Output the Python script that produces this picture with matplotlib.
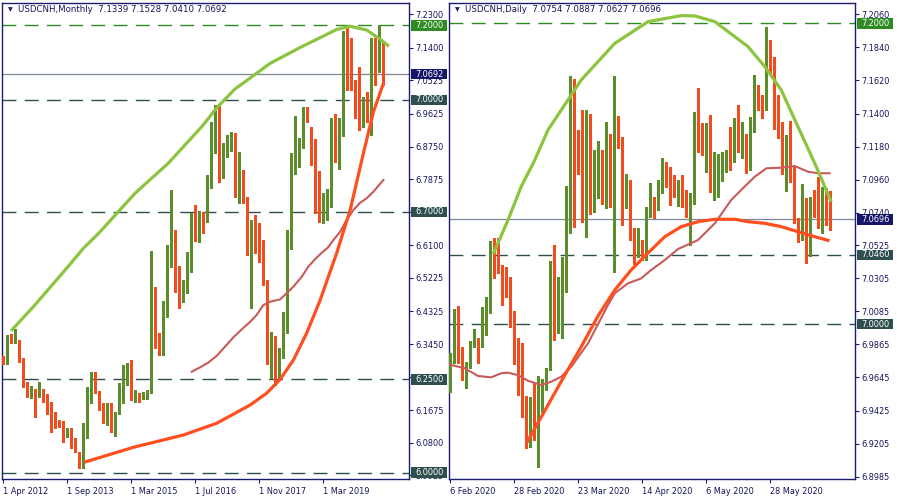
import matplotlib
matplotlib.use('Agg')
import matplotlib.pyplot as plt
import matplotlib.transforms as mtransforms
from matplotlib.patches import Rectangle

plt.rcParams['font.family'] = ['DejaVu Sans']

# ---------------- Monthly data (bar index 0..95) ----------------
m_open = [6.3076, 6.2942, 6.3640, 6.3510, 6.3480, 6.3050, 6.2405, 6.2056, 6.2217, 6.2056,
          6.2190, 6.2029, 6.1600, 6.1439, 6.1332, 6.1305, 6.1117, 6.1144, 6.0902, 6.0526,
          6.0312, 6.1197, 6.2137, 6.2512, 6.2029, 6.1788, 6.1466, 6.1788, 6.1224, 6.1600,
          6.1976, 6.2781, 6.2834, 6.2029, 6.2100, 6.2029, 6.2002, 6.2164, 6.4418, 6.3613,
          6.3183, 6.4203, 6.5652, 6.5948, 6.5518, 6.4606, 6.4874, 6.5867, 6.6699, 6.6216,
          6.6914, 6.6753, 6.7773, 6.9141, 6.9705, 6.8229, 6.8524, 6.8658, 6.8954, 6.7504,
          6.7800, 6.7263, 6.5921, 6.6458, 6.6323, 6.6162, 6.5089, 6.2969, 6.3318, 6.2566,
          6.3130, 6.4042, 6.6323, 6.8041, 6.8470, 6.8846, 6.9785, 6.9141, 6.8658, 6.7075,
          6.6968, 6.7102, 6.7370, 6.9410, 6.8309, 6.9061, 7.1745, 7.1423, 7.0483, 7.0295,
          6.9624, 6.9973, 6.9732, 7.0913, 7.0805, 7.1339]
m_high = [6.3130, 6.3680, 6.3720, 6.3854, 6.3560, 6.3080, 6.2430, 6.2325, 6.2244, 6.2432,
          6.2244, 6.2110, 6.1895, 6.1627, 6.1412, 6.1385, 6.1197, 6.1197, 6.0929, 6.0550,
          6.1332, 6.2298, 6.2700, 6.2700, 6.2190, 6.1868, 6.1868, 6.1868, 6.1627, 6.2405,
          6.2888, 6.2942, 6.3022, 6.2217, 6.2137, 6.2164, 6.2217, 6.5956, 6.4981, 6.3747,
          6.4606, 6.6109, 6.7585, 6.6511, 6.5540, 6.5169, 6.5921, 6.6968, 6.7182, 6.7021,
          6.6994, 6.7987, 6.9410, 6.9866, 6.9866, 6.8846, 6.9061, 6.9141, 6.9115, 6.8605,
          6.8122, 6.7397, 6.6780, 6.6914, 6.6699, 6.6243, 6.5169, 6.3774, 6.3666, 6.3344,
          6.4311, 6.6511, 6.8578, 6.9571, 6.8980, 6.9812, 6.9812, 6.9276, 6.8954, 6.8095,
          6.7504, 6.7612, 6.9517, 6.9624, 6.9517, 7.1852, 7.1933, 7.1664, 7.0537, 7.0886,
          7.0081, 7.0215, 7.1664, 7.1664, 7.2013, 7.1528]
m_low = [6.2920, 6.2920, 6.3480, 6.3480, 6.2970, 6.2300, 6.2030, 6.2002, 6.1493, 6.2040,
         6.1895, 6.1580, 6.1090, 6.1197, 6.1224, 6.0822, 6.0956, 6.0661, 6.0553, 6.0124,
         6.0124, 6.0929, 6.1868, 6.2137, 6.1680, 6.1332, 6.1278, 6.1090, 6.0983, 6.1580,
         6.1868, 6.2351, 6.1949, 6.1895, 6.1895, 6.1976, 6.1976, 6.2140, 6.3344, 6.3157,
         6.3160, 6.4176, 6.5518, 6.4847, 6.4418, 6.4579, 6.4820, 6.5384, 6.6216, 6.6189,
         6.6431, 6.6726, 6.7638, 6.8578, 6.7800, 6.7907, 6.8470, 6.8631, 6.7397, 6.7236,
         6.7236, 6.5840, 6.4418, 6.5894, 6.5652, 6.5035, 6.2920, 6.2539, 6.2351, 6.2486,
         6.3076, 6.3747, 6.6001, 6.8020, 6.8202, 6.8712, 6.9410, 6.8256, 6.6968, 6.6726,
         6.6699, 6.6780, 6.7129, 6.8336, 6.8148, 6.9040, 7.0269, 7.0269, 6.9517, 6.9195,
         6.9276, 6.9410, 6.9061, 7.0403, 7.0752, 7.0410]
m_close = [6.2942, 6.3666, 6.3510, 6.3720, 6.3050, 6.2405, 6.2056, 6.2217, 6.2056, 6.2190,
           6.2002, 6.1600, 6.1439, 6.1332, 6.1278, 6.1117, 6.1144, 6.0848, 6.0795, 6.0312,
           6.1197, 6.2137, 6.2512, 6.2432, 6.1788, 6.1466, 6.1788, 6.1224, 6.1600, 6.2164,
           6.2834, 6.2861, 6.2029, 6.2083, 6.2056, 6.2110, 6.2190, 6.4445, 6.3613, 6.3183,
           6.4257, 6.5652, 6.5948, 6.5518, 6.4633, 6.4874, 6.5867, 6.6699, 6.6404, 6.6914,
           6.6753, 6.7773, 6.9195, 6.9598, 6.8283, 6.8524, 6.8685, 6.9007, 6.7477, 6.7800,
           6.7263, 6.5921, 6.6431, 6.6297, 6.6082, 6.5089, 6.2942, 6.3291, 6.2566, 6.3157,
           6.4069, 6.6323, 6.8041, 6.8417, 6.8712, 6.9759, 6.9437, 6.8658, 6.7021, 6.6994,
           6.7236, 6.7370, 6.9356, 6.8631, 6.9088, 7.1610, 7.1369, 7.0456, 7.0269, 6.9544,
           6.9973, 6.9732, 7.0940, 7.0805, 7.1342, 7.0692]
m_tick_idx = [0, 16, 32, 48, 64, 80]
m_tick_lbl = ['1 Apr 2012', '1 Sep 2013', '1 Mar 2015', '1 Jul 2016', '1 Nov 2017', '1 Mar 2019']
m_yticks = [7.2300, 7.1400, 7.0525, 6.9625, 6.8750, 6.7875, 6.7000, 6.6100, 6.5225,
            6.4325, 6.3450, 6.2575, 6.1675, 6.0800, 5.9925]
m_hidden_ticks = [6.7000, 6.2575]
# moving average
m_ma_idx = [47.2, 49.3, 51.3, 53.4, 55.5, 57.6, 59.7, 61.8, 63.4, 65.1, 66.8, 69.3, 70.9,
            72.6, 74.7, 76.3, 78.0, 79.7, 81.3, 82.6, 84.3, 85.9, 87.6, 89.3, 90.9, 92.6, 95.1]
m_ma_val = [6.2709, 6.2826, 6.2950, 6.3130, 6.3380, 6.3631, 6.3845, 6.4049, 6.4230, 6.4499,
            6.4587, 6.4650, 6.4812, 6.4990, 6.5258, 6.5526, 6.5725, 6.5902, 6.6047, 6.6243,
            6.6466, 6.6780, 6.7048, 6.7244, 6.7362, 6.7539, 6.7853]
# drawn trend curves
m_arc_idx = [2.0, 7.6, 15.9, 20.1, 24.3, 33.0, 41.3, 49.7, 53.4, 58.0, 63.4, 66.8, 74.3,
             83.4, 86.8, 90.9, 94.3, 96.5]
m_arc_val = [6.3801, 6.4453, 6.5483, 6.6020, 6.6466, 6.7496, 6.8301, 6.9284, 6.9785, 7.0295,
             7.0717, 7.0985, 7.1409, 7.1892, 7.1978, 7.1879, 7.1629, 7.1441]
m_red_idx = [20.3, 32.6, 45.1, 53.4, 61.8, 65.9, 69.3, 72.6, 75.9, 79.3, 83.4, 86.8, 90.1, 92.6, 95.1]
m_red_val = [6.0277, 6.0679, 6.1009, 6.1323, 6.1815, 6.2129, 6.2504, 6.3022, 6.3739, 6.4633,
             6.5886, 6.7048, 6.8570, 6.9678, 7.0448]
m_levels = [7.2000, 7.0000, 6.7000, 6.2500, 6.0000]
m_last = 7.0692

# ---------------- Daily data (bar index 0..95) ----------------
d_open = [6.9575, 6.9750, 7.0016, 6.9834, 6.9690, 6.9717, 6.9861, 6.9901, 6.9850, 7.0049,
          7.0087, 7.0446, 7.0506, 7.0355, 7.0260, 7.0207, 7.0080, 6.9881, 6.9543, 6.9484,
          6.9211, 6.9389, 6.9262, 6.9490, 6.9575, 6.9741, 7.0273, 7.0056, 7.0067, 7.0247,
          7.0674, 7.1545, 7.1251, 7.1279, 7.0805, 7.1244, 7.0805, 7.0847, 7.1138, 7.0892,
          7.1197, 7.0854, 7.1257, 7.1239, 7.0781, 7.0825, 7.0614, 7.0471, 7.0541, 7.0437,
          7.0714, 7.0803, 7.0781, 7.0914, 7.1018, 7.0991, 7.0936, 7.0892, 7.0918, 7.0836,
          7.0725, 7.0813, 7.1324, 7.1302, 7.1240, 7.1290, 7.0903, 7.0925, 7.1062, 7.1073,
          7.1118, 7.1113, 7.1312, 7.1171, 7.1184, 7.1031, 7.1328, 7.1541, 7.1490, 7.1457,
          7.1816, 7.1727, 7.1346, 7.1279, 7.1080, 7.1195, 7.1047, 7.0674, 7.0583, 7.0728,
          7.0537, 7.0759, 7.0819, 7.0668, 7.0819, 7.0754]
d_high = [6.9807, 7.0100, 7.0120, 6.9850, 6.9750, 6.9889, 6.9967, 6.9909, 7.0113, 7.0180,
          7.0554, 7.0572, 7.0572, 7.0393, 7.0380, 7.0315, 7.0087, 6.9907, 6.9874, 6.9522,
          6.9517, 6.9608, 6.9655, 6.9635, 6.9708, 7.0419, 7.0526, 7.0315, 7.0448, 7.0918,
          7.1650, 7.1630, 7.1290, 7.1424, 7.1424, 7.1397, 7.1158, 7.1217, 7.1158, 7.1346,
          7.1264, 7.1650, 7.1384, 7.1245, 7.0998, 7.0958, 7.0639, 7.0639, 7.0559, 7.0780,
          7.0940, 7.0847, 7.0958, 7.1102, 7.1080, 7.1042, 7.0991, 7.0958, 7.0991, 7.0892,
          7.0869, 7.1412, 7.1568, 7.1335, 7.1335, 7.1387, 7.1146, 7.1129, 7.1146, 7.1158,
          7.1312, 7.1368, 7.1457, 7.1346, 7.1264, 7.1379, 7.1656, 7.1590, 7.1523, 7.1977,
          7.1889, 7.1778, 7.1523, 7.1346, 7.1257, 7.1350, 7.1050, 7.0703, 7.0932, 7.0840,
          7.0847, 7.0892, 7.0980, 7.0914, 7.0907, 7.0887]
d_low = [6.9550, 6.9741, 6.9741, 6.9628, 6.9575, 6.9708, 6.9850, 6.9741, 6.9845, 6.9927,
         7.0073, 7.0306, 7.0340, 7.0127, 7.0182, 6.9982, 6.9736, 6.9528, 6.9384, 6.9176,
         6.9185, 6.9229, 6.9051, 6.9417, 6.9562, 6.9695, 6.9894, 6.9943, 6.9907, 7.0215,
         7.0606, 7.0648, 7.1000, 7.0681, 7.0581, 7.0732, 7.0747, 7.0838, 7.0798, 7.0774,
         7.0778, 7.0348, 7.1169, 7.0659, 7.0770, 7.0559, 7.0399, 7.0448, 7.0426, 7.0426,
         7.0710, 7.0704, 7.0759, 7.0870, 7.0914, 7.0792, 7.0848, 7.0787, 7.0780, 7.0710,
         7.0529, 7.0798, 7.1146, 7.1124, 7.1008, 7.0880, 7.0825, 7.0847, 7.0953, 7.1013,
         7.1025, 7.1080, 7.1146, 7.1102, 7.1003, 7.1025, 7.1275, 7.1424, 7.1368, 7.1424,
         7.1661, 7.1297, 7.1239, 7.0996, 7.0887, 7.0947, 7.0672, 7.0548, 7.0559, 7.0405,
         7.0455, 7.0714, 7.0637, 7.0605, 7.0659, 7.0627]
d_close = [6.9774, 6.9976, 6.9828, 6.9695, 6.9734, 6.9881, 6.9901, 6.9834, 7.0054, 7.0120,
           7.0439, 7.0308, 7.0348, 7.0209, 7.0200, 7.0054, 6.9743, 6.9595, 6.9450, 6.9211,
           6.9402, 6.9262, 6.9490, 6.9575, 6.9668, 7.0293, 7.0200, 7.0076, 7.0286, 7.0732,
           7.1552, 7.0892, 7.1080, 7.0780, 7.1257, 7.0754, 7.0852, 7.1098, 7.0914, 7.1204,
           7.0887, 7.1264, 7.1239, 7.0836, 7.0818, 7.0614, 7.0471, 7.0559, 7.0437, 7.0719,
           7.0887, 7.0748, 7.0914, 7.0991, 7.0985, 7.0925, 7.0870, 7.0918, 7.0836, 7.0721,
           7.0803, 7.1357, 7.1290, 7.1206, 7.1280, 7.0892, 7.0947, 7.1020, 7.1073, 7.1113,
           7.1098, 7.1328, 7.1173, 7.1177, 7.1018, 7.1302, 7.1457, 7.1475, 7.1430, 7.1763,
           7.1712, 7.1319, 7.1257, 7.1013, 7.1151, 7.1069, 7.0674, 7.0559, 7.0750, 7.0537,
           7.0792, 7.0737, 7.0664, 7.0803, 7.0709, 7.0696]
d_tick_idx = [0, 16, 32, 48, 64, 80]
d_tick_lbl = ['6 Feb 2020', '28 Feb 2020', '23 Mar 2020', '14 Apr 2020', '6 May 2020', '28 May 2020']
d_yticks = [7.2060, 7.1840, 7.1620, 7.1400, 7.1180, 7.0960, 7.0740, 7.0525, 7.0305,
            7.0085, 6.9865, 6.9645, 6.9425, 6.9205, 6.8985]
d_hidden_ticks = []
d_ma_idx = [-0.5, 3.7, 7.0, 10.3, 12.8, 14.5, 17.0, 19.5, 22.8, 25.3, 27.8, 30.3, 34.5, 39.5,
            41.2, 44.5, 47.8, 50.3, 53.7, 57.0, 62.0, 66.2, 70.3, 72.8, 76.2, 79.1, 82.8,
            86.2, 89.5, 92.0, 94.9]
d_ma_val = [6.9734, 6.9706, 6.9655, 6.9646, 6.9673, 6.9677, 6.9661, 6.9623, 6.9595, 6.9617,
            6.9650, 6.9716, 6.9872, 7.0127, 7.0205, 7.0271, 7.0304, 7.0360, 7.0426, 7.0499,
            7.0559, 7.0670, 7.0825, 7.0892, 7.0980, 7.1036, 7.1040, 7.1051, 7.1013, 7.1003,
            7.1003]
d_arc_idx = [10.8, 14.5, 17.8, 21.2, 24.5, 32.8, 41.2, 49.5, 57.8, 61.2, 66.2, 74.5, 78.7,
             82.8, 87.0, 91.2, 95.3]
d_arc_val = [7.0466, 7.0692, 7.0914, 7.1091, 7.1291, 7.1623, 7.1867, 7.2011, 7.2051, 7.2049,
             7.2011, 7.1845, 7.1712, 7.1557, 7.1312, 7.1069, 7.0814]
d_red_idx = [19.1, 24.5, 28.7, 32.8, 37.0, 41.2, 45.3, 49.5, 53.7, 57.8, 62.0, 66.2, 71.2,
             74.5, 78.7, 82.8, 87.0, 91.2, 94.9]
d_red_val = [6.9207, 6.9462, 6.9661, 6.9849, 7.0054, 7.0227, 7.0360, 7.0473, 7.0581, 7.0648,
             7.0681, 7.0697, 7.0697, 7.0681, 7.0670, 7.0648, 7.0614, 7.0581, 7.0554]
d_levels = [7.2000, 7.0460, 7.0000]
d_last = 7.0696

# ---------------- styling ----------------
W, H = 897, 497
BULL = '#5B8E2B'
BEAR = '#F24B1E'
ARC = '#8DC43F'
TREND = '#FF4F1F'
MA = '#C85A5A'
NAVY = '#1B1B72'
SLATE = '#2F4F4F'
GREEN_LVL = '#2E8B22'
LASTC = '#7A8899'
FS = 5.9

fig = plt.figure(figsize=(W / 100, H / 100), dpi=100)
fig.patch.set_facecolor('white')


def make_axes(left_px, width_px):
    return fig.add_axes([left_px / W, 18 / H, width_px / W, 476 / H])


def draw_panel(ax, o, h, l, c, ppu, xlim, ylim, yticks, hidden, tick_idx, tick_lbl,
               ma_i, ma_v, arc_i, arc_v, red_i, red_v, levels, last, width_px, title):
    ax.set_facecolor('white')
    ax.set_xlim(*xlim)
    ax.set_ylim(*ylim)
    minh = 1.0 / ppu
    for i in range(len(o)):
        up = c[i] >= o[i]
        col = BULL if up else BEAR
        ax.vlines(i, l[i], h[i], color=col, lw=0.8, zorder=3, antialiased=False)
        bot = min(o[i], c[i])
        hh = max(abs(c[i] - o[i]), minh)
        ax.add_patch(Rectangle((i - 0.36, bot), 0.72, hh, facecolor=col,
                               edgecolor='none', zorder=3.1, antialiased=False))
    # horizontal levels
    for lv in levels:
        col = GREEN_LVL if abs(lv - 7.2) < 1e-9 else SLATE
        ax.axhline(lv, color=col, lw=1.0, dashes=(10, 6), zorder=1)
    ax.axhline(last, color=LASTC, lw=0.9, zorder=1.5)
    # indicator + drawn objects
    ax.plot(ma_i, ma_v, color=MA, lw=1.5, zorder=4)
    ax.plot(arc_i, arc_v, color=ARC, lw=2.3, zorder=5, solid_capstyle='butt',
            solid_joinstyle='round')
    ax.plot(red_i, red_v, color=TREND, lw=2.3, zorder=5, solid_capstyle='butt',
            solid_joinstyle='round')

    # axes styling
    for s in ax.spines.values():
        s.set_color(NAVY)
        s.set_linewidth(1.0)
    ax.yaxis.tick_right()
    ax.set_yticks(yticks)
    ax.set_yticklabels(['' if any(abs(v - hv) < 1e-9 for hv in hidden) else '%.4f' % v
                        for v in yticks])
    ax.tick_params(axis='y', colors=NAVY, labelcolor='#14145A', length=3, width=0.8,
                   pad=1.5, labelsize=FS)
    ax.set_xticks(tick_idx)
    ax.set_xticklabels(tick_lbl)
    for t in ax.get_xticklabels():
        t.set_ha('left')
    ax.tick_params(axis='x', colors=NAVY, labelcolor='#14145A', length=3, width=0.8,
                   pad=2.5, labelsize=FS)

    # price boxes
    trans = mtransforms.blended_transform_factory(ax.transAxes, ax.transData)
    bh = 10.5 / ppu
    x0 = 1 + 2.0 / width_px
    bw = 35.5 / width_px
    boxes = [(lv, GREEN_LVL if abs(lv - 7.2) < 1e-9 else SLATE) for lv in levels]
    boxes.append((last, '#15156A'))
    for lv, col in boxes:
        ax.add_patch(Rectangle((x0, lv - bh / 2), bw, bh, transform=trans,
                               facecolor=col, edgecolor='none', clip_on=False, zorder=6))
        ax.text(1 + 6.0 / width_px, lv, '%.4f' % lv, transform=trans, color='white',
                fontsize=FS, ha='left', va='center', zorder=7, clip_on=False)
    # header
    ax.text(6 / width_px, 1 - 7 / 476, '\u25BC', transform=ax.transAxes, fontsize=4.5,
            color=NAVY, ha='left', va='center', zorder=8)
    ax.text(16 / width_px, 1 - 7 / 476, title, transform=ax.transAxes, fontsize=6.2,
            color='#14145A', ha='left', va='center', zorder=8)


ax1 = make_axes(2, 407)
draw_panel(ax1, m_open, m_high, m_low, m_close, 372.6, (-0.25, 101.5), (5.9828, 7.2603),
           m_yticks, m_hidden_ticks, m_tick_idx, m_tick_lbl, m_ma_idx, m_ma_val,
           m_arc_idx, m_arc_val, m_red_idx, m_red_val, m_levels, m_last, 407,
           'USDCNH,Monthly  7.1339 7.1528 7.0410 7.0692')

ax2 = make_axes(449, 406)
draw_panel(ax2, d_open, d_high, d_low, d_close, 1503.7, (-0.25, 101.25), (6.8970, 7.2135),
           d_yticks, d_hidden_ticks, d_tick_idx, d_tick_lbl, d_ma_idx, d_ma_val,
           d_arc_idx, d_arc_val, d_red_idx, d_red_val, d_levels, d_last, 406,
           'USDCNH,Daily  7.0754 7.0887 7.0627 7.0696')

fig.savefig('out.png', dpi=100, facecolor='white')
